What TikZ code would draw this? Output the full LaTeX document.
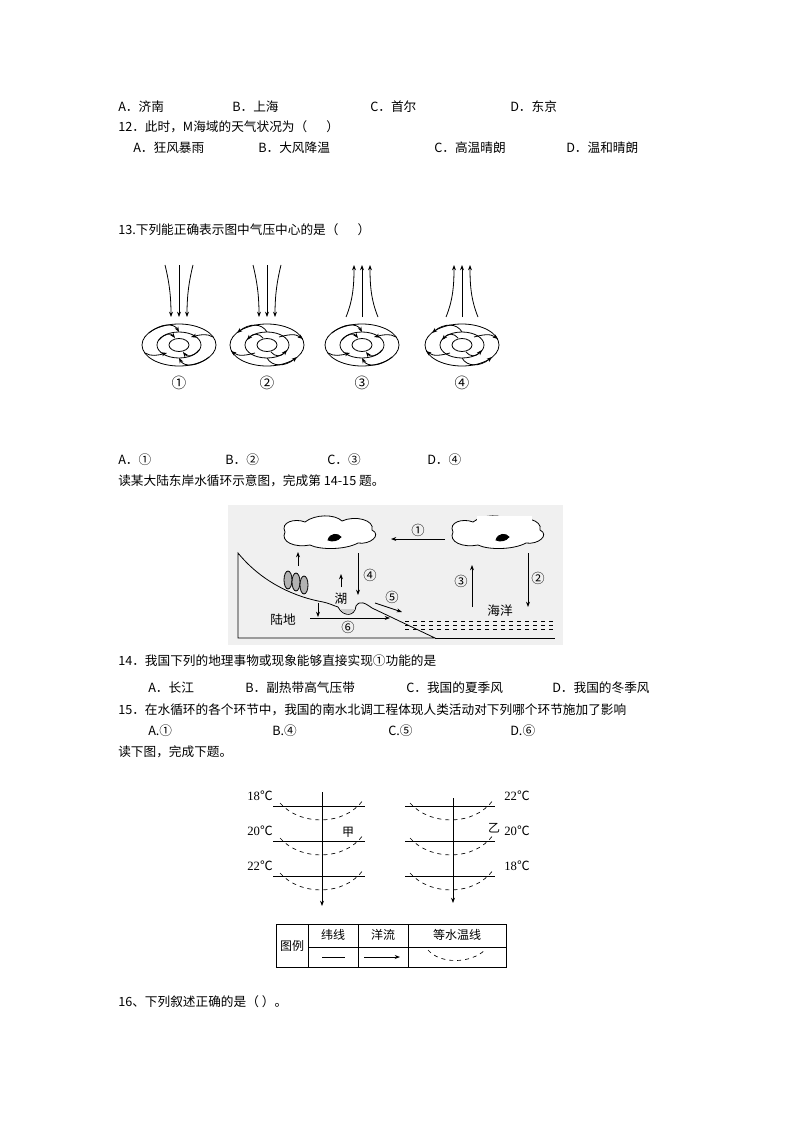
\documentclass[tikz,border=0pt]{standalone}
\usepackage{fontspec}
\setmainfont{Liberation Serif}
\newfontfamily\cjk{Noto Sans CJK SC}
\usetikzlibrary{arrows.meta}
\begin{document}
\begin{tikzpicture}[x=0.75pt,y=-0.75pt,
 txt/.style={anchor=west,inner sep=0pt,font=\cjk\fontsize{9.5}{11}\selectfont},
 lab/.style={inner sep=0pt,font=\fontsize{9.5}{11}\selectfont},
 arr/.style={-{Stealth[length=4pt,width=3pt]},line width=0.6pt},
 ln/.style={line width=0.6pt},
 iso/.style={dashed,line width=0.5pt}]
\useasboundingbox (0,0) rectangle (794,1123);
% text lines
\node[txt] (a1) at (118,107) {A．济南};
\node[txt] (a2) at (232,107) {B．上海};
\node[txt] (a3) at (370,107) {C．首尔};
\node[txt] (a4) at (510,107) {D．东京};
\node[txt] (q12) at (118,127) {12．此时，M海域的天气状况为（\hspace{1.5em}）};
\node[txt] (b1) at (133,148) {A．狂风暴雨};
\node[txt] (b2) at (258,148) {B．大风降温};
\node[txt] (b3) at (434,148) {C．高温晴朗};
\node[txt] (b4) at (566,148) {D．温和晴朗};
\node[txt] (q13) at (118,230) {13.下列能正确表示图中气压中心的是（\hspace{1.5em}）};
\node[txt] (c1) at (118,460) {A．①};
\node[txt] (c2) at (225,460) {B．②};
\node[txt] (c3) at (327,460) {C．③};
\node[txt] (c4) at (427,460) {D．④};
\node[txt] (r1) at (118,481) {读某大陆东岸水循环示意图，完成第 14-15 题。};
\node[txt] (q14) at (118,661) {14．我国下列的地理事物或现象能够直接实现①功能的是};
\node[txt] (d1) at (148,688) {A．长江};
\node[txt] (d2) at (245,688) {B．副热带高气压带};
\node[txt] (d3) at (406,688) {C．我国的夏季风};
\node[txt] (d4) at (552,688) {D．我国的冬季风};
\node[txt] (q15) at (118,710) {15．在水循环的各个环节中，我国的南水北调工程体现人类活动对下列哪个环节施加了影响};
\node[txt] (e1) at (148,731) {A.①};
\node[txt] (e2) at (272,731) {B.④};
\node[txt] (e3) at (388,731) {C.⑤};
\node[txt] (e4) at (510,731) {D.⑥};
\node[txt] (r2) at (118,752) {读下图，完成下题。};
\node[txt] (q16) at (118,1002) {16、下列叙述正确的是（ ）。};
% pressure diagrams
\foreach \cx/\lbl/\up/\out in {179/①/0/0, 267/②/0/1, 362/③/1/0, 462/④/1/1}{
 \begin{scope}[shift={(\cx,345)}]
 \draw[ln] (0,0) ellipse [x radius=37,y radius=21];
 \draw[ln] (0,0) ellipse [x radius=22,y radius=13];
 \draw[ln] (0,0) ellipse [x radius=10,y radius=6.5];
 \ifnum\out=0
  \draw[arr] (-30,-12) .. controls (-18,-22) and (-5,-22) .. (0,-13);
  \draw[arr] (30,12) .. controls (18,22) and (5,22) .. (0,13);
  \draw[arr] (34,-8) .. controls (28,-12) and (20,-10) .. (12,-8);
  \draw[arr] (-34,8) .. controls (-28,12) and (-20,10) .. (-12,8);
  \draw[arr] (-20,-5) .. controls (-14,-12) and (-8,-12) .. (-4,-7);
  \draw[arr] (20,5) .. controls (14,12) and (8,12) .. (4,7);
 \else
  \draw[arr] (0,-13) .. controls (-5,-22) and (-18,-22) .. (-30,-12);
  \draw[arr] (0,13) .. controls (5,22) and (18,22) .. (30,12);
  \draw[arr] (12,-8) .. controls (20,-10) and (28,-12) .. (36,-6);
  \draw[arr] (-12,8) .. controls (-20,10) and (-28,12) .. (-36,6);
  \draw[arr] (-4,-7) .. controls (-8,-12) and (-14,-12) .. (-20,-5);
  \draw[arr] (4,7) .. controls (8,12) and (14,12) .. (20,5);
 \fi
 \ifnum\up=0
  \draw[arr] (0,-80) -- (0,-28);
  \draw[arr] (-14,-80) .. controls (-9,-60) and (-8,-45) .. (-8,-28);
  \draw[arr] (14,-80) .. controls (9,-60) and (8,-45) .. (8,-28);
 \else
  \draw[arr] (0,-28) -- (0,-80);
  \draw[arr] (-16,-28) .. controls (-9,-45) and (-8,-60) .. (-8,-80);
  \draw[arr] (16,-28) .. controls (9,-45) and (8,-60) .. (8,-80);
 \fi
 \node[lab,font=\cjk\fontsize{11}{12}\selectfont] at (0,38) {\lbl};
 \end{scope}}
% water cycle
\fill[gray!12] (228,505) rectangle (563,645);
\foreach \cx in {330,498}{
 \draw[ln,fill=white] (\cx-45,532) .. controls (\cx-50,522) and (\cx-35,518) .. (\cx-25,522)
  .. controls (\cx-15,514) and (\cx+5,514) .. (\cx+12,521)
  .. controls (\cx+25,515) and (\cx+45,520) .. (\cx+42,530)
  .. controls (\cx+52,535) and (\cx+40,545) .. (\cx+28,543)
  .. controls (\cx+15,550) and (\cx-10,550) .. (\cx-20,545)
  .. controls (\cx-35,548) and (\cx-50,542) .. cycle;
 \draw[ln,fill=black] (\cx-2,540) .. controls (\cx,533) and (\cx+8,533) .. (\cx+11,537) .. controls (\cx+8,541) and (\cx+2,542) .. cycle;}
\fill[white] (477,516) rectangle (532,533);
\draw[ln] (238,638) -- (238,553) .. controls (260,580) and (290,595) .. (318,601)
 .. controls (330,603) and (334,606) .. (338,607) .. controls (343,617) and (355,617) .. (356,606)
 .. controls (360,600) and (365,603) .. (372,608) -- (435,638) -- cycle;
\fill[gray!40] (340,609) .. controls (345,615) and (352,615) .. (355,609) -- cycle;
\foreach \yy in {621,625,629}{\draw[ln,dashed] (405,\yy) -- (555,\yy);}
\draw[ln] (435,638) -- (555,638);
\foreach \tx/\ty in {288/580,296/582,304/585}{\draw[ln,fill=gray!60] (\tx,\ty) ellipse [x radius=4,y radius=9];}
\coordinate (w1s) at (445,539); \coordinate (w1e) at (391,539);
\draw[arr] (w1s) -- (w1e);
\draw[arr] (298,566) -- (298,552);
\draw[arr] (341,587) -- (341,574);
\draw[arr] (358,553) -- (358,595);
\draw[arr] (375,603) -- (402,612);
\draw[arr] (472,607) -- (472,565);
\draw[arr] (528,553) -- (528,607);
\draw[arr] (310,618) -- (390,618);
\draw[arr] (318,603) -- (318,617);
\node[lab,font=\cjk\fontsize{10}{11}\selectfont] (n1) at (418,530) {①};
\node[lab,font=\cjk\fontsize{10}{11}\selectfont] (n4) at (370,575) {④};
\node[lab,font=\cjk\fontsize{10}{11}\selectfont] (n5) at (392,597) {⑤};
\node[lab,font=\cjk\fontsize{10}{11}\selectfont] (n3) at (461,581) {③};
\node[lab,font=\cjk\fontsize{10}{11}\selectfont] (n2) at (538,578) {②};
\node[lab,font=\cjk\fontsize{10}{11}\selectfont] (n6) at (348,627) {⑥};
\node[lab,font=\cjk\fontsize{9.5}{11}\selectfont] (hu) at (341,599) {湖};
\node[lab,font=\cjk\fontsize{9.5}{11}\selectfont] (hy) at (500,611) {海洋};
\node[lab,font=\cjk\fontsize{9.5}{11}\selectfont] (ld) at (283,620) {陆地};
% isotherms
\foreach \dy in {0,35,70}{
 \draw[ln] (273,806+\dy) -- (365,806+\dy);
 \draw[iso] (280,803+\dy) .. controls (300,826+\dy) and (345,826+\dy) .. (363,800+\dy);
 \draw[ln] (405,806+\dy) -- (495,806+\dy);
 \draw[iso] (410,803+\dy) .. controls (430,826+\dy) and (475,826+\dy) .. (493,800+\dy);}
\draw[arr] (322,792) -- (322,906);
\draw[arr] (453,798) -- (453,903);
\node[lab] (l18) at (260,796) {18{\cjk ℃}};
\node[lab] (l20) at (260,831) {20{\cjk ℃}};
\node[lab] (l22) at (260,866) {22{\cjk ℃}};
\node[lab] (r22) at (517,796) {22{\cjk ℃}};
\node[lab] (r20) at (517,831) {20{\cjk ℃}};
\node[lab] (r18) at (517,866) {18{\cjk ℃}};
\node[lab,font=\cjk\fontsize{9}{10}\selectfont] (jia) at (348,832) {甲};
\node[lab,font=\cjk\fontsize{9}{10}\selectfont] (yi) at (494,828) {乙};
% legend
\draw[ln] (276,924) rectangle (506,967);
\draw[ln] (308,924) -- (308,967);
\draw[ln] (358,924) -- (358,967);
\draw[ln] (408,924) -- (408,967);
\draw[ln] (308,947) -- (506,947);
\node[lab,font=\cjk\fontsize{9}{10}\selectfont] (tl) at (292,946) {图例};
\node[lab,font=\cjk\fontsize{9}{10}\selectfont] (wx) at (333,935) {纬线};
\node[lab,font=\cjk\fontsize{9}{10}\selectfont] (yl) at (383,935) {洋流};
\node[lab,font=\cjk\fontsize{9}{10}\selectfont] (dsw) at (457,935) {等水温线};
\draw[ln] (322,957) -- (345,957);
\draw[arr] (364,957) -- (400,957);
\draw[iso] (428,950) .. controls (440,964) and (470,964) .. (485,950);
\end{tikzpicture}
\end{document}
